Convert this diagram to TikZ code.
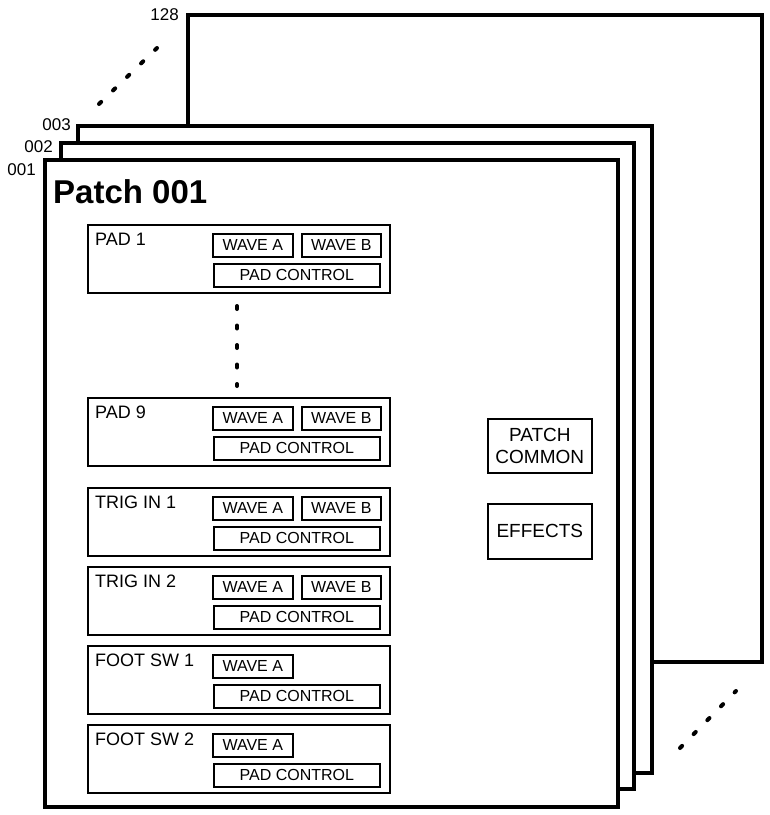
\documentclass[tikz,border=0pt]{standalone}
\usepackage{fontspec}
\setmainfont{Liberation Sans}
\usetikzlibrary{positioning}

\tikzset{
  page/.style={draw, fill=white, line width=4pt},
  pagenum/.style={anchor=east, inner sep=0pt, font=\fontsize{17}{20}\selectfont},
  unit/.style={draw, line width=1.8pt, minimum width=302pt, minimum height=68pt,
    anchor=north west, inner sep=0pt},
  unitname/.style={anchor=base west, inner sep=0pt, font=\fontsize{18}{20}\selectfont},
  part/.style={draw, line width=1.6pt, minimum height=23pt, anchor=north west,
    inner sep=0pt, font=\fontsize{16}{18}\selectfont},
  dots/.style={line width=4pt, line cap=round, dash pattern=on 3pt off 16.5pt},
}

\begin{document}
\begin{tikzpicture}[x=1pt,y=-1pt]
	\useasboundingbox (0,0) rectangle (770,815);
	
	% stack of patches, back to front
	\draw[page] (188,15) rectangle (762,662);
	\draw[page] (78,126) rectangle (652,773);
	\draw[page] (61,143) rectangle (634,789);
	\draw[page] (45,160) rectangle (618,807);
	
	\node[pagenum] (n128) at (179,15) {128};
	\node[pagenum] (n003) at (71,125) {003};
	\node[pagenum] (n002) at (53,147) {002};
	\node[pagenum] (n001) at (36,170) {001};
	
	\coordinate (tl1) at (99,104);
	\coordinate (tl2) at (157,48);
	\coordinate (br1) at (680,748);
	\coordinate (br2) at (736,691);
	\draw[dots] (tl1)--(tl2);
	\draw[dots] (br1)--(br2);
	
	\node[anchor=base west, inner sep=0pt, font=\bfseries\fontsize{33}{38}\selectfont]
		(title) at (53,203) {Patch 001};
	
	% pads and their parts
	\foreach \ty/\name/\id/\wb in {224/PAD 1/p1/1, 397/PAD 9/p9/1, 487/TRIG IN 1/t1/1,
			566/TRIG IN 2/t2/1, 645/FOOT SW 1/f1/0, 724/FOOT SW 2/f2/0}{
		\node[unit] (\id) at (87,\ty) {};
		\node[unitname] (\id-name) at ([shift={(8,21)}]\id.north west) {\name};
		\node[part, minimum width=80pt] (\id-a) at (212,\ty+9) {WAVE A};
		\ifnum\wb=1
			\node[part, minimum width=79pt] (\id-b) at (301,\ty+9) {WAVE B};
		\fi
		\node[part, minimum width=166pt] (\id-ctl) at (213,\ty+39) {PAD CONTROL};
	}
	
	\coordinate (v1) at (237,306);
	\coordinate (v2) at (237,386);
	\draw[dots] (v1)--(v2);
	
	\node[part, align=center, minimum width=104pt, minimum height=54pt,
		font=\fontsize{19}{22}\selectfont] (common) at (487,418) {PATCH\\COMMON};
	\node[part, minimum width=104pt, minimum height=55pt,
		font=\fontsize{19}{22}\selectfont] (fx) at (487,503) {EFFECTS};
\end{tikzpicture}
\end{document}
